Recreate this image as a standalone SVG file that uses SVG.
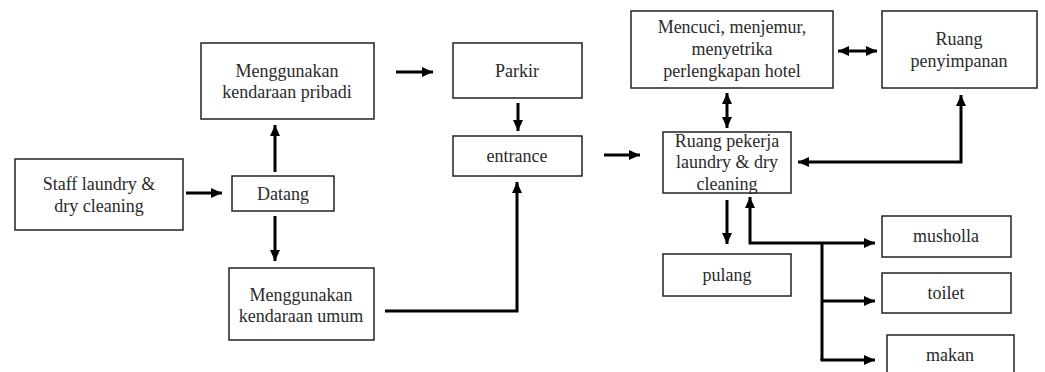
<svg xmlns="http://www.w3.org/2000/svg" width="1045" height="372" viewBox="0 0 1045 372">
  <style>
    .box { fill: #ffffff; stroke: #222222; stroke-width: 1.5; }
    .lbl { font-family: "Liberation Serif", "Times New Roman", serif; font-size: 18px; fill: #2a2a2a; text-anchor: middle; }
    .wire { fill: none; stroke: #000000; stroke-width: 3; }
  </style>
  <defs>
    <marker id="head" markerUnits="userSpaceOnUse" markerWidth="12" markerHeight="12" viewBox="0 0 12 12" refX="11" refY="6" orient="auto-start-reverse">
      <path d="M0,1 L11,6 L0,11 Z" fill="#000000"/>
    </marker>
  </defs>
  <rect width="1045" height="372" fill="#ffffff"/>

  <g id="connectors">
    <line class="wire" x1="186" y1="193" x2="222" y2="193" marker-end="url(#head)"/>
    <line class="wire" x1="275" y1="172" x2="275" y2="125" marker-end="url(#head)"/>
    <line class="wire" x1="275" y1="216" x2="275" y2="261" marker-end="url(#head)"/>
    <line class="wire" x1="396" y1="72" x2="433" y2="72" marker-end="url(#head)"/>
    <line class="wire" x1="518" y1="103" x2="518" y2="131" marker-end="url(#head)"/>
    <polyline class="wire" points="385,311 517,311 517,182" marker-end="url(#head)"/>
    <line class="wire" x1="604" y1="155" x2="640" y2="155" marker-end="url(#head)"/>
    <line class="wire" x1="838" y1="51" x2="877" y2="51" marker-start="url(#head)" marker-end="url(#head)"/>
    <line class="wire" x1="727" y1="93" x2="727" y2="128" marker-start="url(#head)" marker-end="url(#head)"/>
    <polyline class="wire" points="798,162 961,162 961,95" marker-start="url(#head)" marker-end="url(#head)"/>
    <line class="wire" x1="727" y1="200" x2="727" y2="244" marker-end="url(#head)"/>
    <polyline class="wire" points="875,243 750,243 750,197" marker-start="url(#head)" marker-end="url(#head)"/>
    <line class="wire" x1="822" y1="243" x2="822" y2="360"/>
    <line class="wire" x1="822" y1="301" x2="875" y2="301" marker-end="url(#head)"/>
    <line class="wire" x1="820.5" y1="360" x2="875" y2="360" marker-end="url(#head)"/>
  </g>

  <g id="staff">
    <rect class="box" x="15" y="159" width="168" height="71"/>
    <text class="lbl" x="99" y="190">Staff laundry &amp;</text>
    <text class="lbl" x="99" y="212">dry cleaning</text>
  </g>
  <g id="datang">
    <rect class="box" x="232" y="176" width="102" height="35"/>
    <text class="lbl" x="283" y="200">Datang</text>
  </g>
  <g id="pribadi">
    <rect class="box" x="201" y="43" width="173" height="76"/>
    <text class="lbl" x="287" y="77">Menggunakan</text>
    <text class="lbl" x="287" y="98">kendaraan pribadi</text>
  </g>
  <g id="umum">
    <rect class="box" x="229" y="268" width="145" height="72"/>
    <text class="lbl" x="301" y="301">Menggunakan</text>
    <text class="lbl" x="301" y="322">kendaraan umum</text>
  </g>
  <g id="parkir">
    <rect class="box" x="453" y="43" width="129" height="55"/>
    <text class="lbl" x="517" y="77">Parkir</text>
  </g>
  <g id="entrance">
    <rect class="box" x="453" y="136" width="129" height="40"/>
    <text class="lbl" x="517" y="162">entrance</text>
  </g>
  <g id="mencuci">
    <rect class="box" x="631" y="11" width="202" height="77"/>
    <text class="lbl" x="732" y="33">Mencuci, menjemur,</text>
    <text class="lbl" x="732" y="55">menyetrika</text>
    <text class="lbl" x="732" y="77">perlengkapan hotel</text>
  </g>
  <g id="penyimpanan">
    <rect class="box" x="882" y="11" width="155" height="77"/>
    <text class="lbl" x="959" y="45">Ruang</text>
    <text class="lbl" x="959" y="67">penyimpanan</text>
  </g>
  <g id="pekerja">
    <rect class="box" x="663" y="132" width="128" height="61"/>
    <text class="lbl" x="727" y="147">Ruang pekerja</text>
    <text class="lbl" x="727" y="168">laundry &amp; dry</text>
    <text class="lbl" x="727" y="190">cleaning</text>
  </g>
  <g id="pulang">
    <rect class="box" x="663" y="254" width="128" height="42"/>
    <text class="lbl" x="727" y="281">pulang</text>
  </g>
  <g id="musholla">
    <rect class="box" x="882" y="216" width="129" height="41"/>
    <text class="lbl" x="946" y="242">musholla</text>
  </g>
  <g id="toilet">
    <rect class="box" x="882" y="273" width="129" height="40"/>
    <text class="lbl" x="946" y="299">toilet</text>
  </g>
  <g id="makan">
    <rect class="box" x="887" y="335" width="127" height="45"/>
    <text class="lbl" x="950" y="361">makan</text>
  </g>
</svg>
